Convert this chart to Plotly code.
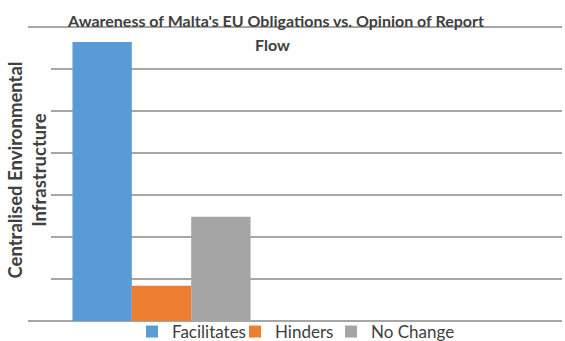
import plotly.graph_objects as go

categories = ["Group 1", "Group 2"]
series_names = ["Facilitates", "Hinders", "No Change"]
facilitates = [66.4, None]
hinders = [8.4, None]
no_change = [24.8, None]
colors = ["#5B9BD5", "#ED7D31", "#A5A5A5"]

title_line1 = "Awareness of Malta's EU Obligations vs. Opinion of Report"
title_line2 = "Flow"
y_title = "Centralised Environmental<br>Infrastructure"

FONT = "Lato, Open Sans, sans-serif"
TXT = "#404040"
W, H = 565, 341
ML, MR, MT, MB = 28, 3, 25, 20
PLOT_TOP = 27          # pixel row of the top gridline
ph = H - MT - MB
pw = W - ML - MR
ymax = 70 + (PLOT_TOP - MT) * 70 / (H - MB - PLOT_TOP)

legend_ids = ["legend", "legend2", "legend3"]
legend_text_x = [173, 276, 372]   # pixel x where each legend label starts

fig = go.Figure()
for name, vals, c, lg in zip(series_names, [facilitates, hinders, no_change], colors, legend_ids):
    fig.add_trace(go.Bar(x=categories, y=vals, name=name, legend=lg,
                         marker=dict(color=c, line=dict(width=0))))

legend_common = dict(orientation="h", xref="container", yref="container", xanchor="left",
                     y=1 - 332 / H, yanchor="middle", font=dict(size=17, color=TXT),
                     bgcolor="rgba(0,0,0,0)", itemwidth=30)

fig.update_layout(
    width=W, height=H,
    margin=dict(l=ML, r=MR, t=MT, b=MB, autoexpand=False),
    paper_bgcolor="white", plot_bgcolor="white",
    barmode="group", bargap=0.333, bargroupgap=0,
    font=dict(family=FONT, color=TXT, size=13),
    title=dict(text="<b>" + title_line1 + "</b>", xref="container", yref="container",
               x=276 / W, xanchor="center", y=1 - 21 / H, yanchor="middle",
               font=dict(size=16, color=TXT)),
    showlegend=True,
    xaxis=dict(showticklabels=False, showgrid=False, ticks="", showline=False, zeroline=False),
    yaxis=dict(range=[0, ymax], tickvals=[0, 10, 20, 30, 40, 50, 60, 70], showticklabels=False, ticks="",
               showgrid=True, gridcolor="#A6A6A6", gridwidth=1.5,
               zeroline=True, zerolinecolor="#A6A6A6", zerolinewidth=1.5, showline=False),
)
for lg, tx in zip(legend_ids, legend_text_x):
    fig.update_layout({lg: dict(legend_common, x=(tx - 41) / W)})

fig.add_annotation(text="<b>" + title_line2 + "</b>", xref="paper", yref="paper",
                   x=(272 - ML) / pw, y=(H - MB - 45) / ph, xanchor="center", yanchor="middle",
                   showarrow=False, font=dict(size=16, color=TXT))
fig.add_annotation(text="<b>" + y_title + "</b>", xref="paper", yref="paper",
                   x=-1.5 / pw, y=(H - MB - 170) / ph, xanchor="center", yanchor="middle", textangle=-90,
                   showarrow=False, bgcolor="white", font=dict(size=18.5, color=TXT))

fig.write_html("out.html", config={"displayModeBar": False},
               post_script="document.body.style.margin='0';document.body.style.overflow='hidden';")
